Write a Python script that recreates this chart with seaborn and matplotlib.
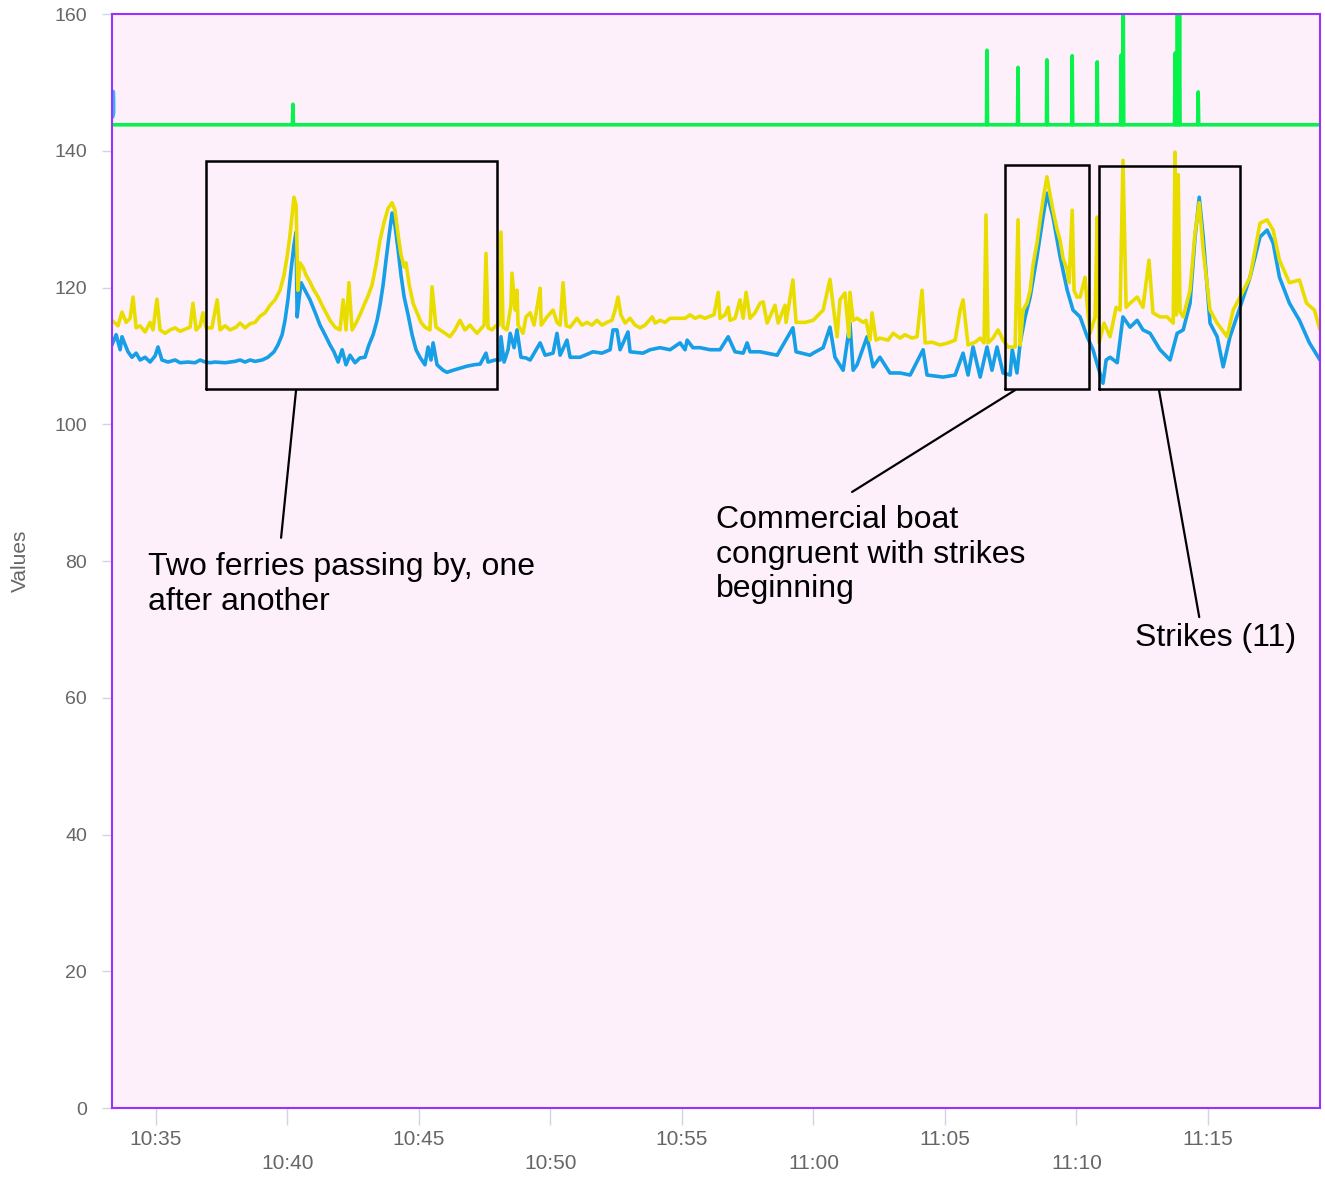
import matplotlib
matplotlib.use('Agg')
import pandas as pd
import matplotlib.pyplot as plt
import seaborn as sns

# minutes after 10:30 and readings for each sensor trace
yellow_t = [3.33, 3.56, 3.71, 3.87, 4.02, 4.13, 4.25, 4.40, 4.59, 4.78,
            4.89, 5.04, 5.16, 5.35, 5.54, 5.73, 5.92, 6.11, 6.30, 6.41,
            6.53, 6.68, 6.79, 6.91, 7.13, 7.33, 7.44, 7.63, 7.82, 8.05,
            8.20, 8.39, 8.58, 8.77, 8.96, 9.15, 9.34, 9.53, 9.72, 9.87,
            9.99, 10.10, 10.18, 10.25, 10.33, 10.40, 10.48, 10.60, 10.71, 10.86,
            11.01, 11.17, 11.32, 11.47, 11.62, 11.81, 12.00, 12.12, 12.23, 12.34,
            12.46, 12.61, 12.76, 12.91, 13.07, 13.22, 13.37, 13.52, 13.68, 13.83,
            13.98, 14.09, 14.21, 14.32, 14.44, 14.51, 14.63, 14.78, 14.93, 15.08,
            15.23, 15.42, 15.50, 15.65, 15.80, 16.00, 16.18, 16.37, 16.56, 16.75,
            16.94, 17.21, 17.48, 17.55, 17.63, 17.78, 17.93, 18.05, 18.12, 18.20,
            18.35, 18.50, 18.54, 18.66, 18.73, 18.77, 18.96, 19.07, 19.23, 19.38,
            19.61, 19.65, 19.87, 20.10, 20.25, 20.37, 20.48, 20.60, 20.75, 21.01,
            21.20, 21.39, 21.58, 21.77, 21.96, 22.15, 22.34, 22.46, 22.57, 22.68,
            22.84, 23.03, 23.22, 23.41, 23.60, 23.87, 23.98, 24.17, 24.36, 24.55,
            24.82, 25.12, 25.31, 25.50, 25.69, 25.88, 26.07, 26.22, 26.38, 26.45,
            26.64, 26.76, 26.83, 27.02, 27.21, 27.33, 27.44, 27.59, 27.78, 27.97,
            28.09, 28.24, 28.54, 28.66, 28.92, 28.96, 29.22, 29.34, 29.68, 29.99,
            30.37, 30.63, 30.75, 30.90, 31.01, 31.20, 31.35, 31.39, 31.51, 31.66,
            31.89, 32.00, 32.15, 32.23, 32.38, 32.53, 32.84, 33.03, 33.30, 33.48,
            33.75, 33.94, 34.13, 34.25, 34.51, 34.82, 35.12, 35.39, 35.58, 35.69,
            35.88, 36.15, 36.34, 36.49, 36.56, 36.64, 36.83, 37.02, 37.21, 37.40,
            37.67, 37.78, 37.86, 37.97, 38.12, 38.24, 38.35, 38.50, 38.62, 38.73,
            38.88, 39.00, 39.11, 39.27, 39.38, 39.49, 39.65, 39.72, 39.84, 39.91,
            40.02, 40.14, 40.33, 40.41, 40.52, 40.71, 40.79, 40.86, 41.05, 41.28,
            41.51, 41.66, 41.77, 41.89, 42.04, 42.31, 42.53, 42.76, 42.91, 43.18,
            43.45, 43.68, 43.75, 43.80, 43.87, 43.94, 44.06, 44.32, 44.51, 44.67,
            44.82, 45.08, 45.35, 45.73, 45.96, 46.22, 46.60, 46.98, 47.25, 47.48,
            47.72, 48.10, 48.48, 48.75, 49.05, 49.26]
yellow_v = [115.2, 114.4, 116.4, 114.9, 115.5, 118.6, 114.1, 114.4, 113.5, 114.9,
            113.8, 118.3, 113.8, 113.3, 113.8, 114.1, 113.6, 113.9, 114.2, 117.7,
            113.8, 114.4, 116.3, 114.1, 114.1, 118.2, 113.8, 114.4, 113.8, 114.2,
            114.8, 114.1, 114.7, 114.9, 115.8, 116.3, 117.4, 118.2, 119.6, 121.8,
            124.5, 127.7, 130.6, 133.2, 132.1, 119.6, 123.6, 122.9, 121.8, 120.8,
            119.6, 118.6, 117.4, 116.3, 115.2, 114.2, 113.8, 118.2, 113.8, 120.7,
            113.8, 114.8, 116.0, 117.4, 118.8, 120.4, 123.3, 126.9, 129.6, 131.6,
            132.4, 131.3, 127.7, 124.8, 123.0, 123.6, 120.4, 117.7, 116.3, 114.9,
            114.2, 113.8, 120.1, 114.2, 113.8, 113.3, 112.8, 113.8, 115.2, 113.8,
            114.5, 113.3, 114.5, 125.0, 114.1, 113.8, 114.4, 114.5, 128.1, 114.2,
            113.8, 117.4, 122.1, 116.7, 119.6, 114.5, 113.3, 115.7, 116.3, 114.5,
            119.9, 114.5, 115.7, 116.7, 114.9, 114.5, 120.7, 114.4, 114.2, 115.5,
            114.5, 114.9, 114.5, 115.2, 114.5, 114.9, 115.2, 116.7, 118.6, 116.0,
            114.8, 115.5, 114.5, 114.1, 114.5, 115.7, 114.8, 115.2, 114.9, 115.5,
            115.5, 115.5, 116.0, 115.5, 115.8, 115.5, 115.8, 116.0, 119.3, 115.5,
            116.0, 117.1, 115.2, 115.5, 118.2, 115.5, 119.3, 115.5, 116.3, 117.7,
            117.9, 114.8, 117.4, 114.8, 117.4, 114.9, 121.1, 114.9, 114.9, 115.2,
            116.7, 121.2, 117.4, 112.8, 118.2, 119.2, 112.8, 119.3, 115.2, 115.5,
            114.9, 115.2, 112.3, 116.3, 112.3, 112.6, 112.3, 113.3, 112.6, 113.1,
            112.6, 112.8, 119.6, 111.9, 112.0, 111.6, 111.9, 112.3, 116.7, 118.2,
            111.6, 112.0, 112.6, 111.9, 130.6, 111.9, 112.6, 113.8, 112.3, 111.3,
            111.3, 129.9, 111.6, 116.7, 117.7, 119.6, 123.3, 126.5, 129.9, 132.8,
            136.2, 133.5, 131.3, 128.4, 126.9, 124.3, 122.6, 120.7, 131.3, 119.6,
            118.6, 118.6, 121.5, 117.4, 113.3, 115.7, 130.3, 111.9, 114.8, 112.8,
            117.1, 116.7, 138.6, 117.1, 117.7, 118.6, 117.1, 124.0, 116.3, 115.7,
            115.7, 114.8, 139.8, 116.0, 136.5, 116.5, 115.7, 119.6, 128.0, 132.4,
            125.5, 116.7, 114.8, 112.8, 116.7, 118.6, 121.5, 129.4, 129.9, 128.4,
            124.0, 120.7, 121.1, 117.7, 116.7, 113.8]

blue_t = [3.33, 3.49, 3.64, 3.71, 3.94, 4.09, 4.25, 4.40, 4.59, 4.78,
          4.97, 5.08, 5.23, 5.46, 5.73, 5.92, 6.22, 6.49, 6.68, 6.87,
          7.06, 7.25, 7.63, 7.82, 8.01, 8.20, 8.39, 8.58, 8.77, 9.04,
          9.26, 9.49, 9.64, 9.80, 9.91, 10.02, 10.14, 10.25, 10.33, 10.37,
          10.44, 10.52, 10.67, 10.86, 11.05, 11.24, 11.43, 11.62, 11.77, 11.93,
          12.08, 12.23, 12.38, 12.57, 12.76, 12.95, 13.10, 13.26, 13.41, 13.52,
          13.64, 13.75, 13.87, 13.98, 14.09, 14.21, 14.32, 14.44, 14.59, 14.74,
          14.89, 15.04, 15.23, 15.35, 15.46, 15.54, 15.69, 15.92, 16.07, 16.30,
          16.56, 16.83, 17.10, 17.33, 17.55, 17.63, 17.90, 18.09, 18.12, 18.24,
          18.39, 18.47, 18.62, 18.73, 18.88, 19.07, 19.23, 19.61, 19.80, 20.10,
          20.25, 20.37, 20.63, 20.75, 21.13, 21.62, 21.96, 22.27, 22.38, 22.53,
          22.65, 22.95, 23.03, 23.52, 23.79, 24.17, 24.55, 24.93, 25.12, 25.20,
          25.42, 25.69, 26.07, 26.45, 26.76, 27.02, 27.33, 27.48, 27.59, 27.97,
          28.62, 29.22, 29.34, 29.87, 29.99, 30.37, 30.63, 30.82, 31.13, 31.39,
          31.51, 31.66, 32.04, 32.27, 32.53, 32.91, 33.30, 33.68, 34.17, 34.32,
          34.93, 35.39, 35.69, 35.88, 36.07, 36.34, 36.60, 36.79, 36.98, 37.21,
          37.48, 37.56, 37.74, 37.86, 38.05, 38.24, 38.50, 38.73, 38.88, 39.11,
          39.38, 39.65, 39.87, 40.14, 40.41, 40.63, 40.82, 41.01, 41.13, 41.28,
          41.55, 41.77, 42.04, 42.31, 42.53, 42.80, 43.18, 43.56, 43.83, 44.06,
          44.32, 44.51, 44.67, 44.82, 45.08, 45.35, 45.58, 45.84, 46.22, 46.60,
          46.98, 47.25, 47.48, 47.72, 48.10, 48.48, 48.86, 49.26]
blue_v = [111.6, 113.1, 110.9, 112.8, 110.6, 109.8, 110.4, 109.4, 109.8, 109.1,
          110.0, 111.3, 109.4, 109.1, 109.4, 109.0, 109.1, 109.0, 109.4, 109.1,
          109.0, 109.1, 109.0, 109.1, 109.2, 109.4, 109.1, 109.4, 109.2, 109.4,
          109.8, 110.6, 111.6, 113.1, 115.2, 118.2, 122.6, 126.2, 128.1, 115.7,
          118.2, 120.7, 119.6, 118.2, 116.4, 114.5, 113.1, 111.6, 110.6, 109.1,
          110.9, 108.7, 110.1, 109.0, 109.7, 109.8, 111.6, 113.1, 115.2, 117.4,
          120.4, 124.0, 127.7, 130.9, 129.1, 125.5, 121.8, 118.6, 116.0, 113.1,
          110.9, 109.8, 108.7, 111.3, 109.4, 111.9, 108.7, 107.9, 107.6, 107.9,
          108.2, 108.5, 108.7, 108.8, 110.4, 109.1, 109.4, 109.4, 112.8, 109.1,
          110.9, 113.3, 111.2, 113.8, 109.8, 109.7, 109.4, 111.9, 110.1, 110.4,
          113.3, 110.1, 112.3, 109.8, 109.8, 110.6, 110.4, 110.9, 113.8, 113.8,
          110.9, 113.5, 110.6, 110.4, 110.9, 111.2, 110.9, 111.9, 110.9, 112.3,
          111.2, 111.2, 110.9, 110.9, 112.8, 110.6, 110.4, 111.9, 110.6, 110.6,
          110.1, 114.1, 110.6, 110.1, 110.4, 111.2, 114.2, 109.8, 107.9, 114.8,
          107.9, 108.7, 112.8, 108.4, 109.8, 107.5, 107.5, 107.2, 110.9, 107.2,
          106.9, 107.2, 110.4, 107.2, 111.3, 106.9, 111.3, 107.9, 111.3, 107.5,
          107.2, 110.9, 107.5, 111.9, 115.7, 118.6, 124.5, 130.3, 133.8, 130.3,
          124.5, 119.6, 116.7, 115.7, 112.8, 110.9, 108.4, 106.0, 109.4, 109.8,
          109.0, 115.7, 114.2, 115.2, 113.8, 113.3, 110.9, 109.4, 113.3, 113.8,
          117.7, 127.4, 133.2, 127.4, 114.8, 112.8, 108.4, 112.8, 117.1, 121.5,
          127.4, 128.4, 126.5, 121.5, 117.7, 115.2, 111.9, 109.4]

# short blue stub at the very start
blip_t = [3.36, 3.37, 3.37, 3.34]
blip_v = [148.6, 147.0, 145.6, 145.0]

green_t = [3.33, 10.19, 10.21, 10.23, 36.58, 36.60, 36.62, 37.76, 37.78, 37.80,
           38.86, 38.88, 38.90, 39.82, 39.84, 39.86, 40.77, 40.79, 40.81, 41.68,
           41.70, 41.72, 41.76, 41.78, 41.80, 43.73, 43.75, 43.77, 43.82, 43.84,
           43.86, 43.90, 43.92, 43.94, 44.61, 44.63, 44.65, 49.26]
green_v = [143.8, 143.8, 146.8, 143.8, 143.8, 154.7, 143.8, 143.8, 152.2, 143.8,
           143.8, 153.3, 143.8, 143.8, 153.9, 143.8, 143.8, 153.0, 143.8, 143.8,
           154.0, 143.8, 143.8, 163.0, 143.8, 143.8, 154.3, 143.8, 143.8, 163.0,
           143.8, 143.8, 163.0, 143.8, 143.8, 148.6, 143.8, 143.8]

tick_labels = ['10:35', '10:40', '10:45', '10:50', '10:55', '11:00',
               '11:05', '11:10', '11:15']
y_ticks = [0, 20, 40, 60, 80, 100, 120, 140, 160]

# annotation boxes (minutes, values), leader lines and notes
box_t0 = [6.91, 37.29, 40.86]
box_t1 = [17.97, 40.48, 46.22]
box_v0 = [105.2, 105.2, 105.2]
box_v1 = [138.5, 137.9, 137.8]
lead_t = [(10.33, 9.76), (37.67, 31.47), (43.14, 44.67)]
lead_v = [(105.0, 83.4), (105.0, 90.1), (105.0, 71.8)]
note_t = [4.70, 26.30, 42.23]
note_v = [81.3, 88.2, 70.9]
note_text = ['Two ferries passing by, one\nafter another',
             'Commercial boat\ncongruent with strikes\nbeginning',
             'Strikes (11)']

day = pd.Timestamp('2021-06-01 10:30:00')


def to_time(minutes):
    return day + pd.to_timedelta(pd.Series(minutes), unit='m')


sns.set_theme(style='white')
plt.rcParams['font.family'] = ['Liberation Sans', 'DejaVu Sans']

fig, ax = plt.subplots(figsize=(13.25, 11.77), dpi=100)
fig.subplots_adjust(left=0.0845, right=0.9962, top=0.9881, bottom=0.0586)
fig.patch.set_facecolor('white')
ax.set_facecolor('#FDF0FA')

green = pd.DataFrame({'time': to_time(green_t), 'value': green_v})
blue = pd.DataFrame({'time': to_time(blue_t), 'value': blue_v})
blip = pd.DataFrame({'time': to_time(blip_t), 'value': blip_v})
yellow = pd.DataFrame({'time': to_time(yellow_t), 'value': yellow_v})

sns.lineplot(data=green, x='time', y='value', ax=ax, color='#08F24C',
             linewidth=2.6, sort=False, estimator=None)
sns.lineplot(data=blue, x='time', y='value', ax=ax, color='#169FE6',
             linewidth=2.6, sort=False, estimator=None)
sns.lineplot(data=blip, x='time', y='value', ax=ax, color='#3AB0F0',
             linewidth=3.5, sort=False, estimator=None)
sns.lineplot(data=yellow, x='time', y='value', ax=ax, color='#E9DD00',
             linewidth=2.6, sort=False, estimator=None)

# boxes, leader lines and notes
for i in range(len(box_t0)):
    xs = to_time([box_t0[i], box_t1[i], box_t1[i], box_t0[i], box_t0[i]])
    ys = [box_v0[i], box_v0[i], box_v1[i], box_v1[i], box_v0[i]]
    ax.plot(xs, ys, color='black', linewidth=1.8, solid_joinstyle='miter')
    ax.plot(to_time(list(lead_t[i])), list(lead_v[i]), color='black', linewidth=1.6)
    ax.text(to_time([note_t[i]])[0], note_v[i], note_text[i], fontsize=23,
            ha='left', va='top', linespacing=1.2, color='black')

ax.set_xlim(to_time([3.33])[0], to_time([49.26])[0])
ax.set_ylim(0, 160)
ax.set_yticks(y_ticks)
ax.set_yticklabels([str(v) for v in y_ticks])

ticks = [pd.Timestamp('2021-06-01 ' + s) for s in tick_labels]
ax.set_xticks(ticks)
ax.set_xticklabels([s if i % 2 == 0 else '\n' + s for i, s in enumerate(tick_labels)],
                   linespacing=1.3)

ax.tick_params(axis='y', left=True, length=7, width=1, color='#CCD6EB', pad=11,
               labelsize=14, labelcolor='#666666')
ax.tick_params(axis='x', bottom=True, length=12, width=1, color='#CCD6EB', pad=4,
               labelsize=15, labelcolor='#666666')

ax.set_xlabel('')
ax.set_ylabel('Values', fontsize=15, color='#666666')
ax.yaxis.set_label_coords(-0.068, 0.5)

for s in ax.spines.values():
    s.set_color('#9B30FF')
    s.set_linewidth(1.5)
    s.set_visible(True)

plt.savefig('out.png', dpi=100)
